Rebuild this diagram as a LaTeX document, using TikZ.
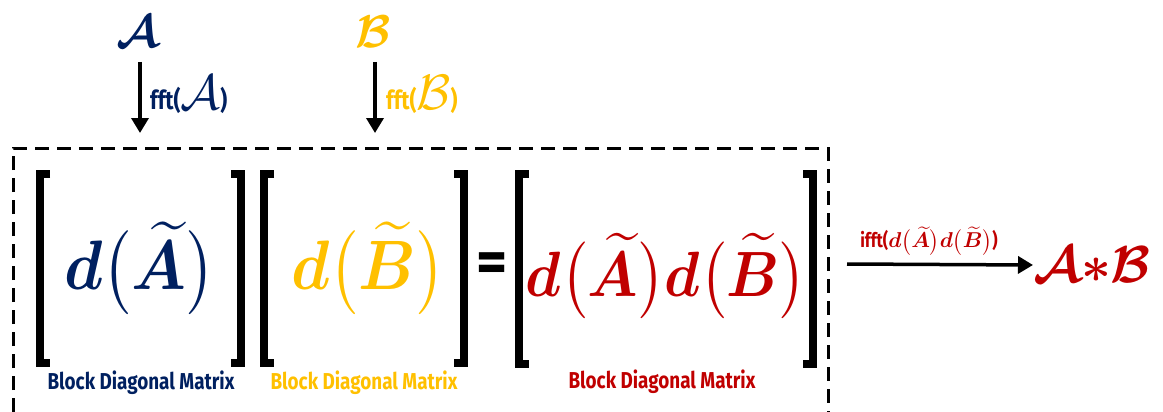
\documentclass[tikz,border=0pt]{standalone}
\usepackage{amsmath}
\usepackage{bm}
\usepackage{graphicx}
\usepackage{fontspec}
\newfontfamily\condf[FakeStretch=0.82]{Fira Sans}
\newfontfamily\firaf{Fira Sans}
\usetikzlibrary{arrows.meta}
\definecolor{navy}{HTML}{002060}
\definecolor{gold}{HTML}{FFC000}
\definecolor{crimson}{HTML}{C00000}
\tikzset{
 bracketline/.style={line width=8pt, line join=miter, line cap=butt},
 dashbox/.style={line width=3pt, dash pattern=on 14pt off 8pt},
 flow/.style={line width=3.5pt, -{Triangle[width=17pt,length=15pt]}},
 caption/.style={font=\condf\bfseries\fontsize{23}{26}\selectfont, inner sep=0pt},
 fftlbl/.style={font=\condf\bfseries\fontsize{26}{30}\selectfont, inner sep=0pt, anchor=west},
 plain/.style={inner sep=0pt},
}
\newcommand\sbx[2]{\scalebox{#1}{#2}}
\newcommand\dA{\bm{d}\bigl(\widetilde{\bm{A}}\bigr)}
\newcommand\dB{\bm{d}\bigl(\widetilde{\bm{B}}\bigr)}
\newcommand\lbrk[4]{\draw[bracketline] (#1+10,#2) -- (#1,#2) -- (#1,#3) -- (#1+10,#3);}
\newcommand\rbrk[4]{\draw[bracketline] (#1-10,#2) -- (#1,#2) -- (#1,#3) -- (#1-10,#3);}
\begin{document}
\begin{tikzpicture}[x=1pt,y=-1pt]
\useasboundingbox (0,0) rectangle (1163,412);
% inputs
\node[plain, text=navy] (A) at (138,32) {\sbx{4.6}{$\bm{\mathcal{A}}$}};
\node[plain, text=gold] (B) at (373,32) {\sbx{4.6}{$\bm{\mathcal{B}}$}};
\coordinate (Aend) at (140,133);
\coordinate (Bend) at (375,133);
\draw[flow] (140,62) -- (Aend);
\draw[flow] (375,62) -- (Bend);
\node[fftlbl, text=navy] (fa) at (150,95) {fft(\sbx{2.0}{$\mathcal{A}$})};
\node[fftlbl, text=gold] (fb) at (386,95) {fft(\sbx{2.0}{$\mathcal{B}$})};
% dashed frame
\draw[dashbox] (13,412) -- (13,148) -- (828,148) -- (828,412);
% brackets
\lbrk{40}{174}{363}{}
\rbrk{241}{174}{363}{}
\lbrk{264}{174}{363}{}
\rbrk{464}{174}{363}{}
\lbrk{519}{174}{364}{}
\rbrk{813}{174}{364}{}
% matrices
\node[plain, text=navy] (dAn) at (140,268) {\scalebox{6.3}[7]{$\dA$}};
\node[plain, text=gold] (dBn) at (368,268) {\scalebox{6.3}[7]{$\dB$}};
\node[font=\firaf\bfseries\fontsize{60}{60}\selectfont, inner sep=0pt] (eq) at (492,268) {=};
\node[plain, text=crimson] (dAB) at (666,276) {\scalebox{5.8}[6.4]{$\dA\dB$}};
\node[caption, text=navy] (cA) at (141,383) {Block Diagonal Matrix};
\node[caption, text=gold] (cB) at (364,383) {Block Diagonal Matrix};
\node[caption, text=crimson] (cAB) at (662,382) {Block Diagonal Matrix};
% output
\coordinate (outs) at (847,264);
\node[plain, text=crimson, anchor=west] (res) at (1033,265) {\sbx{5.2}{$\bm{\mathcal{A}}{\bm{*}}\bm{\mathcal{B}}$}};
\draw[flow] (outs) -- (res.west);
\node[plain, text=crimson] (ilbl) at (929,241) {{\condf\bfseries\fontsize{20}{22}\selectfont ifft(}\sbx{2.15}{$\dA\dB$}{\condf\bfseries\fontsize{20}{22}\selectfont )}};
\end{tikzpicture}
\end{document}
